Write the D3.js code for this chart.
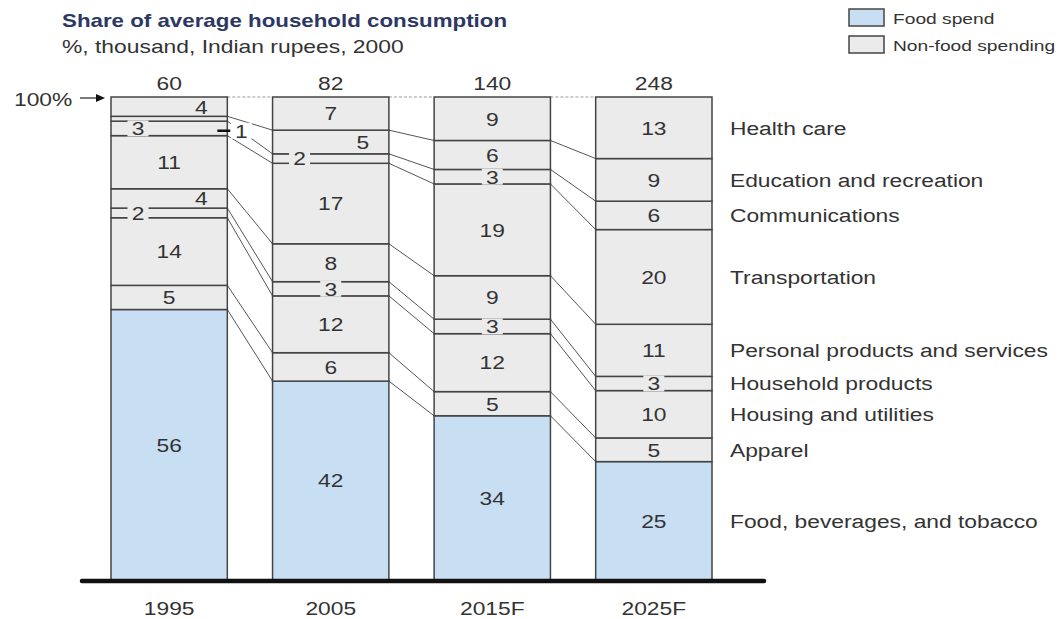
<!DOCTYPE html>
<html>
<head>
<meta charset="utf-8">
<script src="https://cdn.jsdelivr.net/npm/d3@7"></script>
<style>
  body { margin: 0; background: #fff; }
  svg { font-family: "Liberation Sans", Arial, sans-serif; }
</style>
</head>
<body>
<div id="chart"></div>
<script>
const years = ["1995", "2005", "2015F", "2025F"];
const totals = [60, 82, 140, 248];

// bottom to top
const categories = [
  "Food, beverages, and tobacco",
  "Apparel",
  "Housing and utilities",
  "Household products",
  "Personal products and services",
  "Transportation",
  "Communications",
  "Education and recreation",
  "Health care"
];
const food = [56, 42, 34, 25];
const apparel = [5, 6, 5, 5];
const housing = [14, 12, 12, 10];
const household = [2, 3, 3, 3];
const personal = [4, 8, 9, 11];
const transport = [11, 17, 19, 20];
const communications = [3, 2, 3, 6];
const education = [1, 5, 6, 9];
const health = [4, 7, 9, 13];

const seriesValues = [food, apparel, housing, household, personal, transport, communications, education, health];

const width = 1060;
const height = 619;
const sx = 1.2; // the source type is set a bit wide

// table for d3.stack
const table = years.map((yr, i) => {
  const row = { year: yr };
  categories.forEach((c, k) => { row[c] = seriesValues[k][i]; });
  return row;
});

const stack = d3.stack().keys(categories).offset(d3.stackOffsetExpand);
const series = stack(table);

const x = d3.scaleBand().domain(years).range([111, 712]).paddingInner(0.28).paddingOuter(0);
const y = d3.scaleLinear().domain([0, 1]).range([580, 97]);
const bw = x.bandwidth();

const foodFill = "#c8dff3";
const otherFill = "#ebebeb";
const stroke = "#444";
const textCol = "#333";

// where small labels sit inside a bar
const labelPlace = {
  "1995|Health care": "right",
  "1995|Personal products and services": "right",
  "1995|Communications": "left",
  "1995|Household products": "left",
  "1995|Education and recreation": "outside",
  "2005|Education and recreation": "right",
  "2005|Communications": "left"
};

const svg = d3.select("#chart").append("svg")
  .attr("width", width).attr("height", height);

function label(g, tx, ty, str, size, opts = {}) {
  return g.append("text")
    .attr("transform", `translate(${tx},${ty}) scale(${opts.sx || sx},1)`)
    .attr("text-anchor", opts.anchor || "start")
    .attr("dy", opts.dy || null)
    .style("font-size", size + "px")
    .style("font-weight", opts.bold ? "bold" : null)
    .attr("fill", opts.fill || textCol)
    .text(str);
}

// title
label(svg, 62, 27, "Share of average household consumption", 18, { bold: true, fill: "#2c3763", sx: 1.24 });
label(svg, 62, 53, "%, thousand, Indian rupees, 2000", 18, { sx: 1.27 });

// legend
const legend = [["Food spend", foodFill], ["Non-food spending", otherFill]];
legend.forEach((d, i) => {
  svg.append("rect").attr("x", 849).attr("y", 9 + i * 27).attr("width", 35).attr("height", 17)
    .attr("fill", d[1]).attr("stroke", stroke).attr("stroke-width", 1.5);
  label(svg, 893, 24 + i * 27, d[0], 15, { sx: 1.28 });
});

// connectors between bars
const connectors = svg.append("g");
for (let i = 0; i < years.length - 1; i++) {
  const x0 = x(years[i]) + bw;
  const x1 = x(years[i + 1]);
  series.forEach((s, k) => {
    const top = k === series.length - 1;
    connectors.append("line")
      .attr("x1", x0).attr("y1", y(s[i][1]))
      .attr("x2", x1).attr("y2", y(s[i + 1][1]))
      .attr("stroke", top ? "#999" : "#555")
      .attr("stroke-width", 1)
      .attr("stroke-dasharray", top ? "3,2" : null);
  });
}

// segments
const segs = svg.append("g");
series.forEach((s, k) => {
  segs.selectAll(null).data(s).enter().append("rect")
    .attr("x", d => x(d.data.year))
    .attr("y", d => y(d[1]))
    .attr("width", bw)
    .attr("height", d => y(d[0]) - y(d[1]))
    .attr("fill", k === 0 ? foodFill : otherFill)
    .attr("stroke", stroke)
    .attr("stroke-width", 1.5);
});

// segment labels
const labels = svg.append("g");
series.forEach((s, k) => {
  s.forEach((d, i) => {
    const yr = d.data.year;
    const val = seriesValues[k][i];
    const place = labelPlace[yr + "|" + s.key] || "center";
    let lx = x(yr) + bw / 2;
    if (place === "right") lx = x(yr) + bw - 26;
    if (place === "left") lx = x(yr) + 27;
    let ly = (y(d[0]) + y(d[1])) / 2;
    if (place === "outside") {
      lx = x(yr) + bw + 14;
      ly += 12;
      labels.append("line")
        .attr("x1", x(yr) + bw - 10).attr("x2", x(yr) + bw + 3)
        .attr("y1", ly).attr("y2", ly)
        .attr("stroke", "#111").attr("stroke-width", 2.5);
    }
    if (val <= 3 || place === "outside") {
      const tw = String(val).length * 13 + 8;
      labels.append("rect")
        .attr("x", lx - tw / 2).attr("y", ly - 8)
        .attr("width", tw).attr("height", 16)
        .attr("fill", place === "outside" ? "#fff" : (k === 0 ? foodFill : otherFill));
    }
    label(labels, lx, ly, val, 19, { anchor: "middle", dy: "0.36em" });
  });
});

// totals above bars
years.forEach((yr, i) => label(svg, x(yr) + bw / 2, 90, totals[i], 19, { anchor: "middle" }));

// 100% marker
label(svg, 14, 106, "100%", 19);
svg.append("line").attr("x1", 80).attr("x2", 98).attr("y1", 98).attr("y2", 98)
  .attr("stroke", "#222").attr("stroke-width", 1.2);
svg.append("path").attr("d", "M96,94 L105,98 L96,102 Z").attr("fill", "#111");

// category labels on the right, beside 2025F segments
const last = years.length - 1;
series.forEach(s => {
  label(svg, 730, (y(s[last][0]) + y(s[last][1])) / 2, s.key, 19, { dy: "0.36em" });
});

// baseline
svg.append("line").attr("x1", 82).attr("x2", 764).attr("y1", 581).attr("y2", 581)
  .attr("stroke", "#111").attr("stroke-width", 4.5).attr("stroke-linecap", "round");

// x axis labels
years.forEach(yr => label(svg, x(yr) + bw / 2, 615, yr, 19, { anchor: "middle" }));
</script>
</body>
</html>
